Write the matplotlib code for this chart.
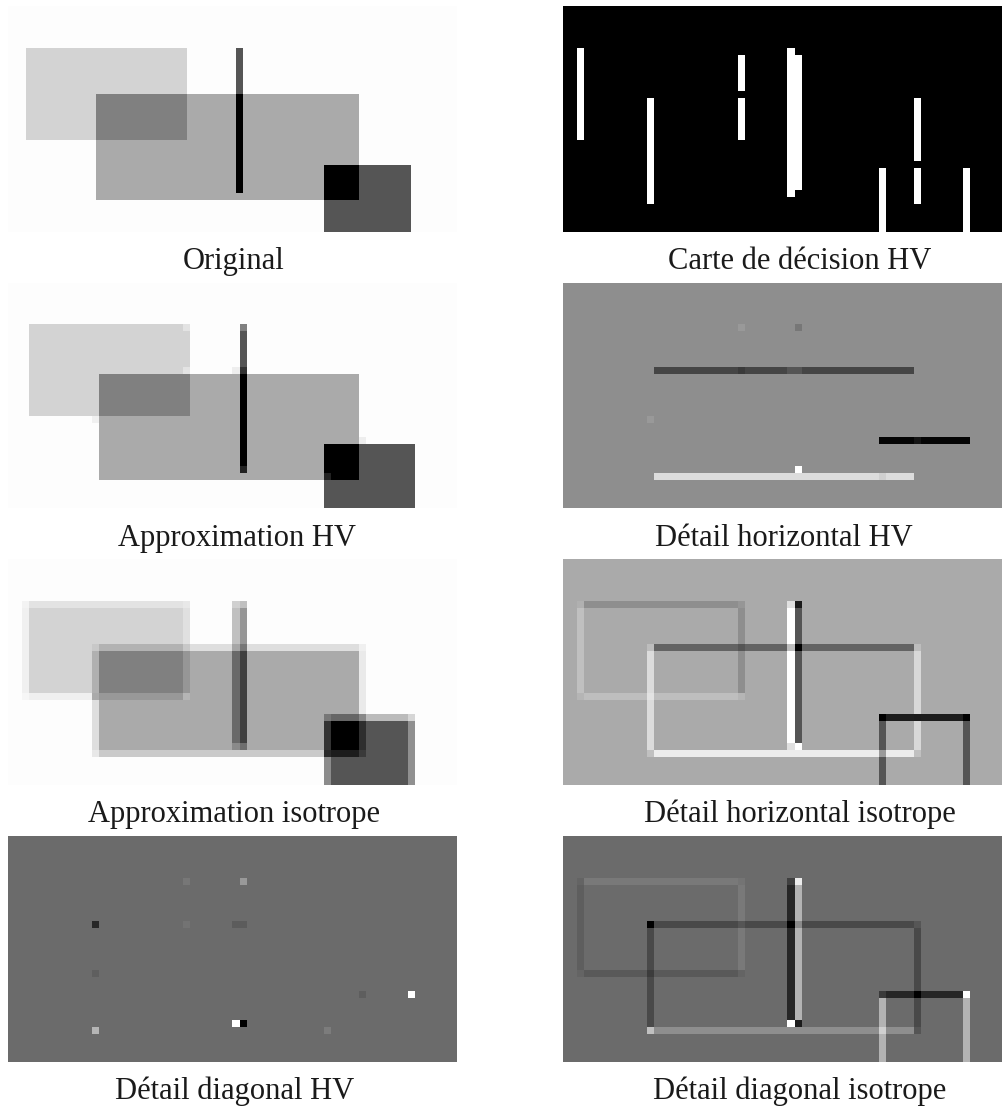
import numpy as np
import matplotlib
matplotlib.use("Agg")
import matplotlib.pyplot as plt

# ---------------- data ----------------
# rectangles: (col0, col1, row0, row1, grey value), end-exclusive, painted in order
orig_grid = (64, 128)          # original image: half-cell resolution
orig_bg = 253
orig_rects = [
    (5, 51, 12, 38, 211),
    (25, 100, 25, 55, 170),
    (25, 51, 25, 38, 128),
    (65, 67, 12, 25, 85),
    (65, 67, 25, 53, 0),
    (90, 115, 45, 64, 85),
    (90, 100, 45, 55, 0),
]

grid = (32, 64)

carte_bg = 0
carte_rects = [
    (2, 3, 6, 19, 255), (12, 13, 13, 28, 255), (25, 26, 7, 12, 255),
    (25, 26, 13, 19, 255), (32, 33, 6, 27, 255), (33, 34, 7, 26, 255),
    (50, 51, 13, 22, 255), (50, 51, 23, 28, 255), (45, 46, 23, 32, 255),
    (57, 58, 23, 32, 255),
]

approx_hv_bg = 253
approx_hv_rects = [
    (3, 26, 6, 19, 211),
    (13, 50, 13, 28, 170),
    (13, 26, 13, 19, 128),
    (33, 34, 6, 7, 128),
    (33, 34, 7, 12, 85),
    (33, 34, 12, 13, 51),
    (33, 34, 13, 26, 0),
    (33, 34, 26, 27, 34),
    (45, 58, 23, 32, 85),
    (45, 50, 23, 28, 0),
    (45, 46, 27, 28, 34),
    (25, 26, 6, 7, 228),
    (25, 26, 12, 13, 228),
    (12, 13, 19, 20, 240),
    (32, 33, 12, 13, 238),
    (50, 51, 22, 23, 238),
]

det_h_hv_bg = 142
det_h_hv_rects = [
    (25, 26, 6, 7, 153),
    (33, 34, 6, 7, 119),
    (13, 50, 12, 13, 69),
    (25, 26, 12, 13, 58),
    (32, 34, 12, 13, 85),
    (12, 13, 19, 20, 153),
    (45, 58, 22, 23, 5),
    (50, 51, 22, 23, 21),
    (33, 34, 26, 27, 255),
    (13, 50, 27, 28, 220),
    (45, 46, 27, 28, 207),
]

approx_iso_bg = 253
approx_iso_rects = [
    (2, 26, 6, 20, 240),
    (2, 26, 6, 7, 228),
    (25, 26, 6, 20, 224),
    (2, 3, 6, 7, 244),
    (25, 26, 6, 7, 232),
    (2, 3, 19, 20, 246),
    (3, 25, 7, 19, 211),
    (12, 51, 12, 28, 222),
    (50, 51, 12, 28, 234),
    (50, 51, 12, 13, 240),
    (12, 51, 27, 28, 202),
    (12, 13, 27, 28, 232),
    (13, 50, 13, 27, 170),
    (13, 25, 13, 19, 128),
    (12, 13, 13, 19, 176),
    (13, 25, 12, 13, 178),
    (12, 13, 12, 13, 200),
    (25, 26, 12, 13, 200),
    (25, 26, 13, 19, 150),
    (13, 25, 19, 20, 152),
    (25, 26, 19, 20, 181),
    (12, 13, 19, 20, 170),
    (32, 33, 6, 7, 208), (33, 34, 6, 7, 192),
    (32, 33, 7, 12, 192), (33, 34, 7, 12, 150),
    (32, 33, 12, 13, 166), (33, 34, 12, 13, 119),
    (32, 33, 13, 26, 106), (33, 34, 13, 26, 64),
    (32, 33, 26, 27, 138), (33, 34, 26, 27, 110),
    (45, 58, 22, 23, 187),
    (45, 50, 22, 23, 102),
    (45, 46, 22, 23, 119),
    (50, 51, 22, 23, 136),
    (57, 58, 22, 23, 214),
    (45, 46, 23, 32, 140),
    (57, 58, 23, 32, 144),
    (46, 57, 23, 32, 85),
    (45, 46, 23, 27, 51),
    (46, 50, 23, 27, 0),
    (50, 51, 23, 27, 46),
    (46, 50, 27, 28, 28),
    (45, 46, 27, 28, 42),
    (50, 51, 27, 28, 58),
]

det_h_iso_bg = 170
det_h_iso_rects = [
    (2, 3, 6, 7, 176), (3, 25, 6, 7, 142), (25, 26, 6, 7, 150),
    (2, 3, 7, 19, 192), (25, 26, 7, 19, 142),
    (2, 3, 19, 20, 181), (3, 25, 19, 20, 190), (25, 26, 19, 20, 181),
    (12, 13, 12, 13, 189), (13, 50, 12, 13, 99), (50, 51, 12, 13, 189),
    (12, 13, 13, 27, 220), (50, 51, 13, 27, 216),
    (12, 13, 27, 28, 192), (13, 50, 27, 28, 236), (50, 51, 27, 28, 192),
    (12, 13, 19, 20, 228), (25, 26, 12, 13, 85),
    (32, 33, 6, 7, 224), (32, 33, 7, 26, 255), (32, 33, 12, 13, 189),
    (32, 33, 26, 27, 224),
    (33, 34, 6, 7, 26), (33, 34, 7, 26, 85), (33, 34, 12, 13, 0),
    (33, 34, 26, 27, 255),
    (45, 46, 22, 23, 0), (46, 57, 22, 23, 28), (57, 58, 22, 23, 0),
    (50, 51, 22, 23, 26),
    (45, 46, 23, 32, 85), (57, 58, 23, 32, 85), (45, 46, 27, 28, 154),
]

det_d_hv_bg = 107
det_d_hv_rects = [
    (25, 26, 6, 7, 119), (33, 34, 6, 7, 153),
    (12, 13, 12, 13, 40), (25, 26, 12, 13, 115), (32, 34, 12, 13, 92),
    (12, 13, 19, 20, 95),
    (50, 51, 22, 23, 94), (57, 58, 22, 23, 255),
    (32, 33, 26, 27, 255), (33, 34, 26, 27, 0),
    (12, 13, 27, 28, 181), (45, 46, 27, 28, 124),
]

det_d_iso_bg = 107
det_d_iso_rects = [
    (2, 3, 6, 7, 100), (3, 25, 6, 7, 122), (25, 26, 6, 7, 116),
    (2, 3, 7, 19, 94), (25, 26, 7, 19, 122),
    (2, 3, 19, 20, 100), (3, 25, 19, 20, 90), (25, 26, 19, 20, 100),
    (12, 13, 12, 13, 0), (13, 50, 12, 13, 74), (50, 51, 12, 13, 86),
    (12, 13, 13, 27, 74), (50, 51, 13, 27, 74),
    (12, 13, 27, 28, 192), (13, 50, 27, 28, 142), (50, 51, 27, 28, 85),
    (12, 13, 19, 20, 61), (25, 26, 12, 13, 85),
    (32, 33, 6, 7, 64), (32, 33, 7, 26, 38), (32, 33, 12, 13, 0),
    (32, 33, 26, 27, 255),
    (33, 34, 6, 7, 236), (33, 34, 7, 26, 179), (33, 34, 12, 13, 138),
    (33, 34, 26, 27, 28),
    (45, 46, 22, 23, 58), (46, 57, 22, 23, 38), (50, 51, 22, 23, 0),
    (57, 58, 22, 23, 255),
    (45, 46, 23, 32, 179), (57, 58, 23, 32, 179), (45, 46, 27, 28, 208),
]

captions = [
    "Original", "Carte de décision HV",
    "Approximation HV", "Détail horizontal HV",
    "Approximation isotrope", "Détail horizontal isotrope",
    "Détail diagonal HV", "Détail diagonal isotrope",
]

# ---------------- layout ----------------
W, H = 1002, 1106
col_x = [8, 563]
panel_w, panel_h = 449, 225.7
row_top = [6, 282.7, 559.3, 836]
cap_x = [233.5, 800, 237.5, 784, 234, 800, 235, 800]


def paint(shape, bg, rects):
    img = np.full(shape, bg, dtype=float)
    for c0, c1, r0, r1, v in rects:
        img[r0:r1, c0:c1] = v
    return img


panels = [
    (orig_grid, orig_bg, orig_rects),
    (grid, carte_bg, carte_rects),
    (grid, approx_hv_bg, approx_hv_rects),
    (grid, det_h_hv_bg, det_h_hv_rects),
    (grid, approx_iso_bg, approx_iso_rects),
    (grid, det_h_iso_bg, det_h_iso_rects),
    (grid, det_d_hv_bg, det_d_hv_rects),
    (grid, det_d_iso_bg, det_d_iso_rects),
]

fig = plt.figure(figsize=(W / 100, H / 100), dpi=100)
fig.patch.set_facecolor("white")

for i, (shape, bg, rects) in enumerate(panels):
    r, c = divmod(i, 2)
    x0 = col_x[c]
    top = row_top[r]
    ax = fig.add_axes([x0 / W, 1 - (top + panel_h) / H, panel_w / W, panel_h / H])
    img = paint(shape, bg, rects)
    ax.imshow(img, cmap="gray", vmin=0, vmax=255, interpolation="nearest",
              extent=(0, 64, 32, 0), aspect="auto")
    ax.set_xlim(0, 64)
    ax.set_ylim(32, 0)
    ax.axis("off")
    fig.text(cap_x[i] / W, 1 - (top + 263) / H, captions[i],
             ha="center", va="baseline", fontsize=22,
             family=["Liberation Serif", "DejaVu Serif"], color="#1a1a1a")

fig.savefig("out.png", dpi=100, facecolor="white")
